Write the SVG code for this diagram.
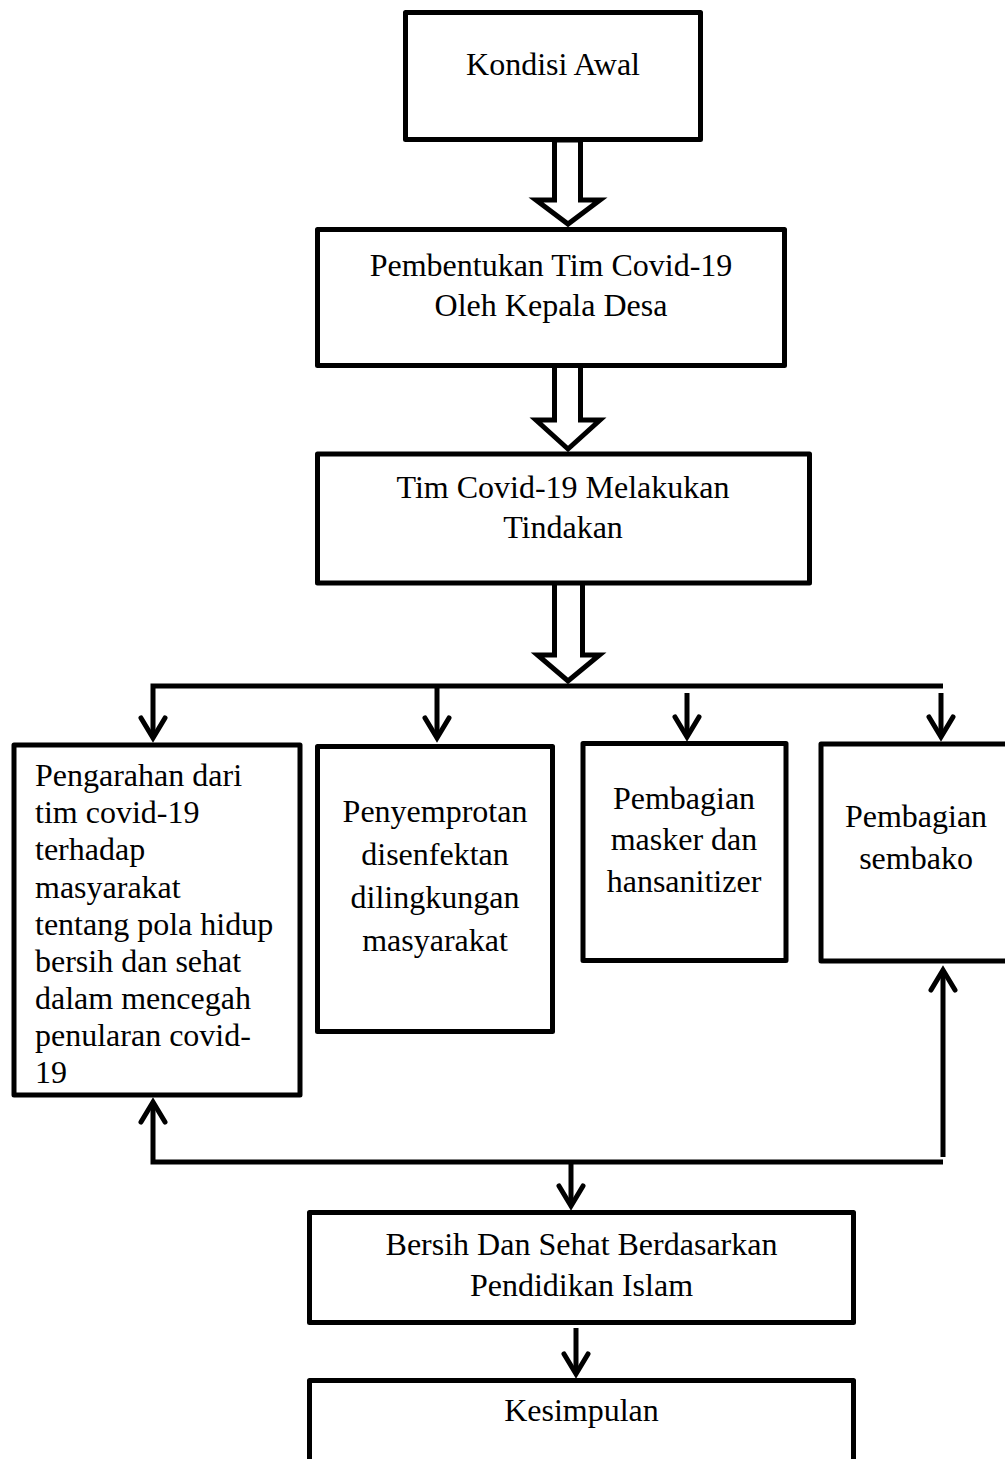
<svg xmlns="http://www.w3.org/2000/svg" width="1005" height="1459" viewBox="0 0 1005 1459">
<style>
.box{fill:#fff;stroke:#000;stroke-width:5;stroke-linejoin:round}
.hollow{fill:#fff;stroke:#000;stroke-width:5;stroke-linejoin:miter}
.ln{fill:none;stroke:#000;stroke-width:5;stroke-linejoin:miter}
.t{font-family:"Liberation Serif","Times New Roman",serif;font-size:32px;fill:#000}
.c{text-anchor:middle}
</style>
<defs>
<marker id="chev" viewBox="-26 -16 32 32" refX="0" refY="0" markerWidth="32" markerHeight="32" markerUnits="userSpaceOnUse" orient="auto" overflow="visible">
<path d="M-20,-12 L0,0 L-20,12" fill="none" stroke="#000" stroke-width="5" stroke-linecap="round" stroke-linejoin="miter"/>
</marker>
</defs>
<rect width="1005" height="1459" fill="#fff"/>

<g id="connectors">
<polygon class="hollow" points="554.5,140 580.5,140 580.5,200 600,200 568,224 536,200 554.5,200"/>
<polygon class="hollow" points="554.5,364 580.5,364 580.5,420 600,420 568,449 536,420 554.5,420"/>
<polygon class="hollow" points="554.5,581 582.5,581 582.5,655 599.5,655 568,681 537.5,655 554.5,655"/>
<path class="ln" d="M943,686 H153 V738" marker-end="url(#chev)"/>
<path class="ln" d="M437,686 V738" marker-end="url(#chev)"/>
<path class="ln" d="M687,693 V737" marker-end="url(#chev)"/>
<path class="ln" d="M941,693 V737" marker-end="url(#chev)"/>
<path class="ln" d="M943,1157 V970" marker-end="url(#chev)"/>
<path class="ln" d="M943,1162 H153 V1102" marker-end="url(#chev)"/>
<path class="ln" d="M571,1162 V1206" marker-end="url(#chev)"/>
<path class="ln" d="M576,1328 V1374" marker-end="url(#chev)"/>
</g>

<g id="kondisi-awal">
<rect class="box" x="405.5" y="12.5" width="295" height="127"/>
<text class="t c" x="553" y="75">Kondisi Awal</text>
</g>

<g id="pembentukan-tim">
<rect class="box" x="317.5" y="229.5" width="467" height="136"/>
<text class="t c" x="551" y="276">Pembentukan Tim Covid-19</text>
<text class="t c" x="551" y="316">Oleh Kepala Desa</text>
</g>

<g id="tim-tindakan">
<rect class="box" x="317.5" y="454" width="492" height="129"/>
<text class="t c" x="563" y="498">Tim Covid-19 Melakukan</text>
<text class="t c" x="563" y="538">Tindakan</text>
</g>

<g id="pengarahan">
<rect class="box" x="14" y="745" width="286" height="350"/>
<text class="t" x="35" y="786">Pengarahan dari</text>
<text class="t" x="35" y="823">tim covid-19</text>
<text class="t" x="35" y="860">terhadap</text>
<text class="t" x="35" y="898">masyarakat</text>
<text class="t" x="35" y="935">tentang pola hidup</text>
<text class="t" x="35" y="972">bersih dan sehat</text>
<text class="t" x="35" y="1009">dalam mencegah</text>
<text class="t" x="35" y="1046">penularan covid-</text>
<text class="t" x="35" y="1083">19</text>
</g>

<g id="penyemprotan">
<rect class="box" x="317.5" y="746.5" width="235" height="285"/>
<text class="t c" x="435" y="822">Penyemprotan</text>
<text class="t c" x="435" y="865">disenfektan</text>
<text class="t c" x="435" y="908">dilingkungan</text>
<text class="t c" x="435" y="951">masyarakat</text>
</g>

<g id="pembagian-masker">
<rect class="box" x="583" y="743.5" width="203" height="217"/>
<text class="t c" x="684" y="809">Pembagian</text>
<text class="t c" x="684" y="850">masker dan</text>
<text class="t c" x="684" y="892">hansanitizer</text>
</g>

<g id="pembagian-sembako">
<rect class="box" x="821" y="744" width="195" height="217"/>
<text class="t c" x="916" y="827">Pembagian</text>
<text class="t c" x="916" y="869">sembako</text>
</g>

<g id="bersih-sehat">
<rect class="box" x="309.5" y="1212.5" width="544" height="110"/>
<text class="t c" x="581.5" y="1255">Bersih Dan Sehat Berdasarkan</text>
<text class="t c" x="581.5" y="1296">Pendidikan Islam</text>
</g>

<g id="kesimpulan">
<rect class="box" x="309.5" y="1380.5" width="544" height="100"/>
<text class="t c" x="581.5" y="1421">Kesimpulan</text>
</g>
</svg>
